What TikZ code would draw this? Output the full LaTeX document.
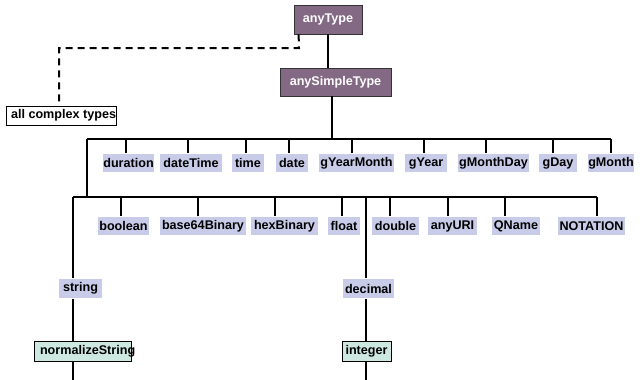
\documentclass[tikz,border=0pt]{standalone}
\usepackage{fontspec}
\setmainfont{Liberation Sans}
\usetikzlibrary{positioning}
\definecolor{plum}{HTML}{836983}
\definecolor{lav}{HTML}{C8CCE8}
\definecolor{mint}{HTML}{CCE8E0}
\begin{document}
\begin{tikzpicture}[x=1pt, y=-1pt, line width=2pt,
  font=\fontsize{12.6}{15}\selectfont\bfseries,
  top/.style = {draw=black!80, line width=0.8pt, fill=plum, text=white, inner sep=0pt},
  lbl/.style = {fill=lav, inner sep=0pt, minimum height=18pt},
  sub/.style = {draw, line width=0.8pt, fill=mint, inner ysep=0pt, minimum height=20pt}]
  \useasboundingbox (0,0) rectangle (640,380);

  \node[top, minimum width=68pt, minimum height=29pt] (anyType) at (328,19.5) {anyType};
  \node[top, minimum width=111pt, minimum height=28pt] (anySimpleType) at (335.5,82) {anySimpleType};
  \node[draw, line width=0.8pt, fill=white, inner xsep=5pt, inner ysep=0pt, minimum height=19pt] (complex) at (61,115.5) {\makebox[100pt][l]{all complex types}};

  % primitive types, first row
  \foreach \n/\x/\w in {duration/128.5/51, dateTime/191/62, time/248/32, date/292/32,
      gYearMonth/356.5/75, gYear/426/42, gMonthDay/493.5/71, gDay/558/38, gMonth/611/46}
    \node[lbl, minimum width=\w pt] (\n) at (\x,163) {\n};

  % primitive types, second row
  \foreach \n/\x/\w in {boolean/123.5/51, base64Binary/203/86, hexBinary/284.5/67, float/344/32,
      double/395.5/47, anyURI/452.5/49, QName/516/48, NOTATION/591.5/67}
    \node[lbl, minimum width=\w pt] (\n) at (\x,226) {\n};

  \node[lbl, minimum width=43pt, minimum height=19pt] (string) at (80.5,288.5) {string};
  \node[lbl, minimum width=51pt, minimum height=19pt] (decimal) at (368.5,288.5) {decimal};
  \node[sub, inner xsep=6pt] (normalizeString) at (82.5,351) {\makebox[85pt][l]{normalizeString}};
  \node[sub, minimum width=49pt, inner xsep=0pt] (integer) at (366.5,351) {integer};

  \coordinate (b1L) at (87,139);
  \coordinate (b1R) at (611,139);
  \coordinate (b1) at (332,139);
  \coordinate (b2L) at (73,197);
  \coordinate (b2R) at (597,197);
  \coordinate (b2) at (366,197);
  \coordinate (endS) at (73,380);
  \coordinate (endD) at (366,380);
  \coordinate (d1) at (299,48);
  \coordinate (d2) at (59,48);

  \draw (anyType.south) -- (anyType.south |- anySimpleType.north);
  \draw[dashed, dash pattern=on 7pt off 5pt] ([xshift=5pt]anyType.south west) -- (d1) -- (d2) -- (d2 |- complex.north);
  \draw (anySimpleType.south -| b1) -- (b1);
  \draw (b1L) -- (b1R);
  \draw (b1L) -- (b1L |- b2L);
  \draw (b2L) -- (b2R);

  \foreach \n/\x in {duration/126, dateTime/188, time/246, date/289, gYearMonth/352,
      gYear/424, gMonthDay/486, gDay/553, gMonth/611}
    \draw (\x,139) -- (\x,0 |- \n.north);
  \foreach \n/\x in {boolean/121, base64Binary/198, hexBinary/275, float/342,
      double/390, anyURI/448, QName/505, NOTATION/597}
    \draw (\x,197) -- (\x,0 |- \n.north);

  \draw (b2L) -- (b2L |- string.north);
  \draw (b2L |- string.south) -- (b2L |- normalizeString.north);
  \draw (b2L |- normalizeString.south) -- (endS);
  \draw (b2) -- (b2 |- decimal.north);
  \draw (b2 |- decimal.south) -- (b2 |- integer.north);
  \draw (b2 |- integer.south) -- (endD);
\end{tikzpicture}
\end{document}
